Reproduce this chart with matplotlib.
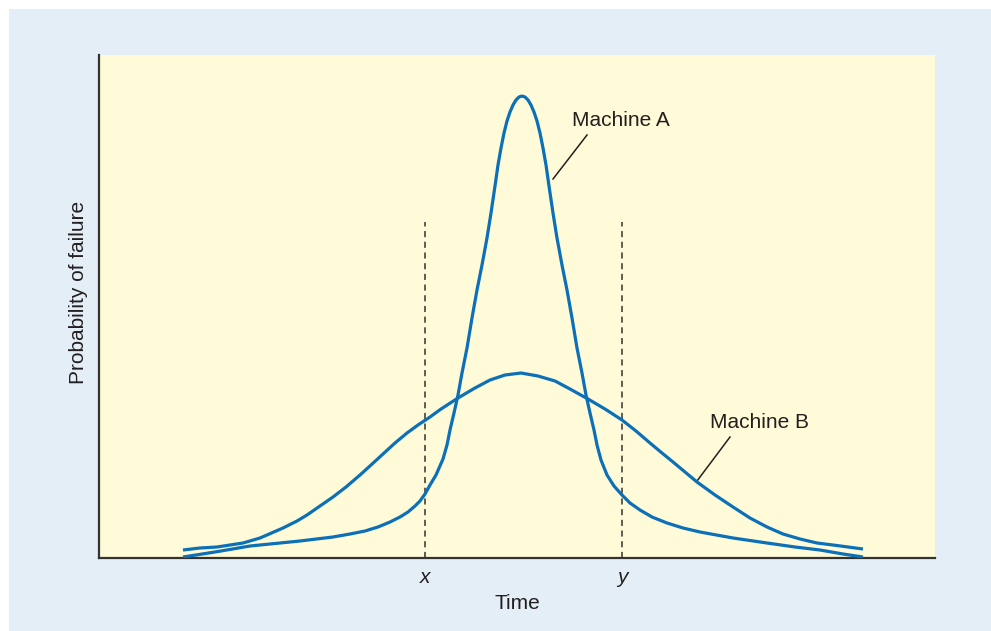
from matplotlib import pyplot
from matplotlib.patches import Rectangle

# values (time in arbitrary units, probability in arbitrary units)
a_time = [183, 215, 250, 300, 333, 350, 365, 378, 390, 400, 408, 415, 420, 425, 430,
          436, 443, 447, 450, 454, 458, 462, 467, 472, 477, 482, 487, 491, 495, 498,
          501, 504, 507, 510, 513, 516, 519, 522, 525, 528, 531, 534, 537, 540, 543,
          546, 549, 553, 557, 562, 567, 572, 577, 582, 586, 590, 594, 597, 601, 607,
          614, 622, 630, 640, 652, 667, 683, 700, 733, 767, 795, 820, 843, 863]
a_prob = [1, 6, 12, 17, 21, 24, 27, 31, 36, 41, 46, 52, 57, 64, 73,
          83, 99, 113, 128, 145, 163, 185, 210, 240, 268, 293, 320, 345, 372, 393,
          410, 425, 437, 446, 453, 458, 461, 462, 461, 458, 453, 446, 437, 425, 410,
          393, 372, 345, 320, 293, 268, 240, 210, 185, 163, 145, 128, 113, 98, 83,
          72, 63, 55, 48, 41, 35, 30, 26, 20, 15, 11, 8, 4, 1]

b_time = [183, 200, 217, 230, 243, 260, 283, 297, 307, 320, 333, 346, 360, 371, 383,
          395, 407, 418, 430, 441, 458, 475, 490, 505, 521, 538, 555, 570, 588, 605,
          622, 636, 650, 662, 673, 685, 697, 715, 733, 750, 767, 783, 800, 817, 833,
          848, 863]
b_prob = [8, 10, 11, 13, 15, 20, 30, 37, 43, 52, 61, 71, 83, 93, 104,
          115, 125, 133, 141, 149, 160, 170, 178, 183, 185, 182, 177, 169, 159, 149,
          138, 127, 115, 105, 96, 86, 76, 63, 51, 40, 31, 24, 19, 15, 13,
          11, 9]

marks = [425, 622]
mark_labels = ["x", "y"]

BLUE = "#0b70b7"
INK = "#231f20"


def main():
    pyplot.rcParams["font.family"] = ["Liberation Sans", "DejaVu Sans"]
    fig = pyplot.figure(figsize=[9.91, 6.31], dpi=100)
    fig.patch.set_facecolor("white")
    bg = Rectangle((9 / 991, 0), 1 - 9 / 991, 1 - 9 / 631,
                   transform=fig.transFigure, facecolor="#e3eef6",
                   edgecolor="none", zorder=-10)
    fig.add_artist(bg)

    ax = fig.add_axes([99 / 991, 73 / 631, 836 / 991, 503 / 631])
    ax.set_zorder(1)
    ax.set_facecolor("#fffad7")
    ax.set_xlim(99, 935)
    ax.set_ylim(0, 503)
    for s in ["top", "right"]:
        ax.spines[s].set_visible(False)
    for s in ["left", "bottom"]:
        ax.spines[s].set_color("#333333")
        ax.spines[s].set_linewidth(1.6)

    ax.plot(a_time, a_prob, color=BLUE, lw=2.3, solid_joinstyle="round",
            solid_capstyle="butt", zorder=3)
    ax.plot(b_time, b_prob, color=BLUE, lw=2.3, solid_joinstyle="round",
            solid_capstyle="butt", zorder=3)

    for m in marks:
        ax.plot([m, m], [0, 336], color="#333333", lw=1.1, dashes=(4, 3), zorder=2)

    ax.set_yticks([])
    ax.set_xticks(marks)
    ax.set_xticklabels(mark_labels, fontstyle="italic", fontsize=15, color=INK)
    ax.tick_params(axis="x", length=0, pad=7)

    ax.set_xlabel("Time", fontsize=15, color=INK, labelpad=5)
    ax.set_ylabel("Probability of failure", fontsize=15, color=INK)
    ax.yaxis.set_label_coords(-0.013, 0.527)

    ax.text(572, 438, "Machine A", fontsize=15, color=INK, va="center", ha="left")
    ax.plot([587, 553], [423, 379], color=INK, lw=1.1)
    ax.text(710, 136, "Machine B", fontsize=15, color=INK, va="center", ha="left")
    ax.plot([730, 697], [121, 77], color=INK, lw=1.1)

    fig.savefig("out.png", dpi=100)


if __name__ == '__main__':
    main()
